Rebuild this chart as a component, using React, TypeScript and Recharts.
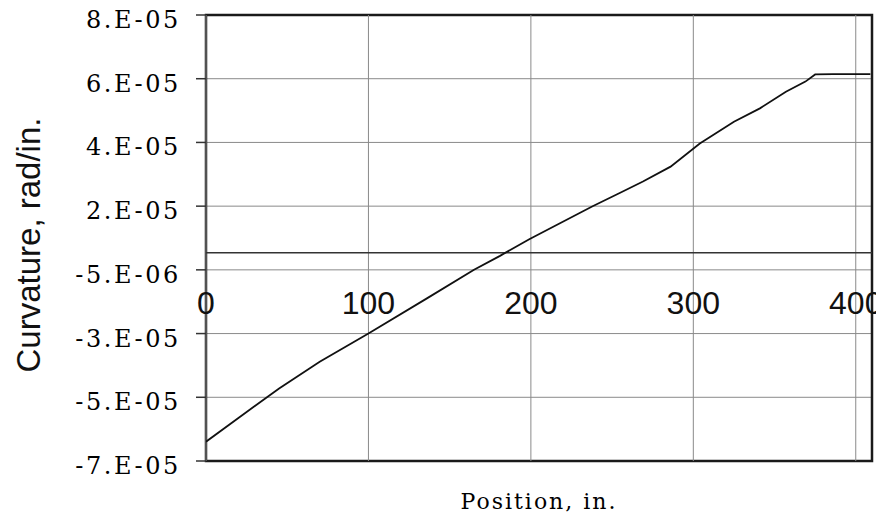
import React from "react";
import {
  LineChart,
  Line,
  XAxis,
  YAxis,
  CartesianGrid,
  ReferenceLine,
  ReferenceArea,
  ReferenceDot,
} from "recharts";

// Position along member, in.
const positions = [0, 21, 45, 70, 100, 136, 165, 181, 199, 238, 255, 269, 286, 304, 325, 341, 357, 369, 375, 386, 409];
// Curvature, rad/in.
const curvature = [
  -6.35e-5, -5.51e-5, -4.56e-5, -3.66e-5, -2.71e-5, -1.53e-5, -0.57e-5, -0.1e-5, 0.46e-5,
  1.57e-5, 2.02e-5, 2.4e-5, 2.9e-5, 3.68e-5, 4.41e-5, 4.86e-5, 5.42e-5, 5.76e-5, 6.0e-5,
  6.01e-5, 6.01e-5,
];

const xTicks = [0, 100, 200, 300, 400];
const xTickLabels = ["0", "100", "200", "300", "400"];
const xDomain = [0, 410];

const yTicks = [8e-5, 5.857e-5, 3.714e-5, 1.571e-5, -0.571e-5, -2.714e-5, -4.857e-5, -7e-5];
const yTickLabels = ["8.E-05", "6.E-05", "4.E-05", "2.E-05", "-5.E-06", "-3.E-05", "-5.E-05", "-7.E-05"];
const yDomain = [-7e-5, 8e-5];

const data = positions.map((p, i) => ({ position: p, curvature: curvature[i] }));

const SERIF = "'DejaVu Serif', 'Liberation Serif', serif";
const SANS = "'Liberation Sans', Arial, sans-serif";

const YTick = (props: any) => {
  const { x, y, payload, index } = props;
  const i = typeof index === "number" ? index : yTicks.indexOf(payload.value);
  return (
    <text
      x={x + 3}
      y={y}
      dy={13}
      textAnchor="end"
      fontFamily={SERIF}
      fontSize={24}
      letterSpacing={2.6}
      fill="#000"
    >
      {yTickLabels[i]}
    </text>
  );
};

const YLabel = (props: any) => {
  const vb = props.viewBox || {};
  const cx = (vb.x || 0) + 28;
  const cy = (vb.y || 0) + (vb.height || 0) / 2 + 7;
  return (
    <text
      x={cx}
      y={cy}
      transform={`rotate(-90 ${cx} ${cy})`}
      textAnchor="middle"
      dominantBaseline="central"
      fontFamily={SANS}
      fontSize={33}
      fill="#111"
    >
      Curvature, rad/in.
    </text>
  );
};

const XLabel = (props: any) => {
  const vb = props.viewBox || {};
  const cx = (vb.x || 0) + (vb.width || 0) / 2;
  const by = (vb.y || 0) + (vb.height || 0) - 8;
  return (
    <text
      x={cx}
      y={by}
      textAnchor="middle"
      fontFamily={SERIF}
      fontSize={22}
      letterSpacing={2}
      fill="#000"
    >
      Position, in.
    </text>
  );
};

const makeXTickLabel = (text: string) => (props: any) => {
  const vb = props.viewBox || {};
  const cx = (vb.x || 0) + (vb.width || 0) / 2;
  const cy = (vb.y || 0) + (vb.height || 0) / 2;
  return (
    <text x={cx} y={cy + 61} textAnchor="middle" fontFamily={SANS} fontSize={32} fill="#111">
      {text}
    </text>
  );
};

export default function App() {
  return (
    <div style={{ margin: "-8px 0 0 -8px", width: 884, height: 517 }}>
      <LineChart
        width={884}
        height={517}
        data={data}
        margin={{ top: 15, right: 12, bottom: 0, left: 0 }}
        style={{ background: "#fff" }}
      >
        <CartesianGrid stroke="#8a8a8a" strokeWidth={1} vertical={false} />
        <XAxis
          dataKey="position"
          type="number"
          domain={xDomain}
          ticks={xTicks}
          allowDataOverflow
          height={56}
          tick={false}
          tickLine={false}
          axisLine={false}
          label={<XLabel />}
        />
        <YAxis
          type="number"
          domain={yDomain}
          ticks={yTicks}
          allowDataOverflow
          width={206}
          axisLine={false}
          tickSize={10}
          tickMargin={18}
          tickLine={{ stroke: "#333", strokeWidth: 1.5 }}
          tick={<YTick />}
          interval={0}
          label={<YLabel />}
        />
        {xTicks.map((v) => (
          <ReferenceLine key={`v${v}`} x={v} stroke="#8a8a8a" strokeWidth={1} />
        ))}
        <ReferenceLine y={0} stroke="#333" strokeWidth={1.5} />
        {xTicks.map((v, i) => (
          <ReferenceDot
            key={v}
            x={v}
            y={0}
            r={0}
            fill="none"
            stroke="none"
            ifOverflow="visible"
            label={makeXTickLabel(xTickLabels[i])}
          />
        ))}
        <ReferenceArea
          x1={xDomain[0]}
          x2={xDomain[1]}
          y1={yDomain[0]}
          y2={yDomain[1]}
          fill="none"
          stroke="#1a1a1a"
          strokeWidth={2.5}
          ifOverflow="visible"
        />
        <Line
          type="linear"
          dataKey="curvature"
          stroke="#111"
          strokeWidth={1.8}
          dot={false}
          isAnimationActive={false}
        />
      </LineChart>
    </div>
  );
}
